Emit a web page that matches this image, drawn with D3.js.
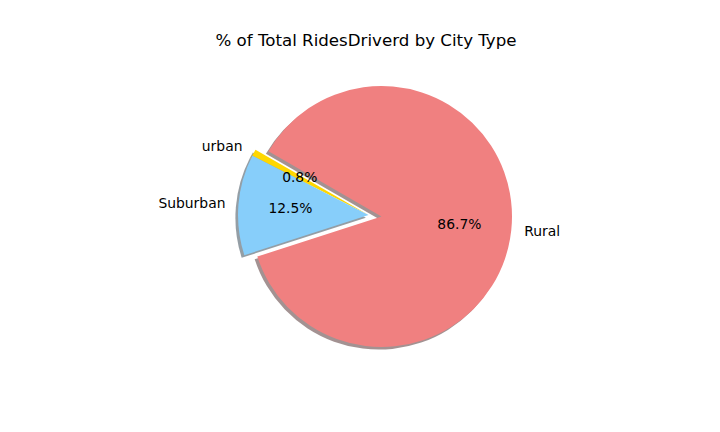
<!DOCTYPE html>
<html>
<head>
<meta charset="utf-8">
<script src="https://cdn.jsdelivr.net/npm/d3@7"></script>
<style>
  html, body { margin: 0; padding: 0; background: #ffffff; }
  svg { display: block; }
  text { font-family: "DejaVu Sans", sans-serif; fill: #000; }
</style>
</head>
<body>
<script>
// ---- data ----
const cityTypes = ["urban", "Suburban", "Rural"];
const ridePercent = [0.8, 12.5, 86.7];
const sliceColors = ["#FFD700", "#87CEFA", "#F08080"];
const explode = [0.1, 0.1, 0];
const chartTitle = "% of Total RidesDriverd by City Type";

// ---- layout ----
const W = 720, H = 432;
const cx = 381.5, cy = 216.5, R = 130.5;
const startDeg = 150;            // matplotlib-style start angle (ccw from 3 o'clock)
const labelDist = 1.1, pctDist = 0.6, shadowOff = 0.02;

const svg = d3.select("body").append("svg")
  .attr("width", W).attr("height", H);

// scales from data units (radius = 1) to pixels
const sx = d3.scaleLinear().domain([-1, 1]).range([cx - R, cx + R]);
const sy = d3.scaleLinear().domain([-1, 1]).range([cy + R, cy - R]);

const a0 = (90 - startDeg) * Math.PI / 180;
const pie = d3.pie().sort(null).value(d => d.v)
  .startAngle(a0).endAngle(a0 - 2 * Math.PI);

const data = cityTypes.map((c, i) => ({ c, v: ridePercent[i], col: sliceColors[i], ex: explode[i] }));
const arcs = pie(data);

// exploded slices move together along the middle of their combined span
const exArcs = arcs.filter(a => a.data.ex > 0);
const groupMid = exArcs.length
  ? (d3.max(exArcs, a => Math.max(a.startAngle, a.endAngle)) + d3.min(exArcs, a => Math.min(a.startAngle, a.endAngle))) / 2
  : 0;

arcs.forEach(a => {
  a.mid = (a.startAngle + a.endAngle) / 2;
  const e = a.data.ex;
  a.ox = e * Math.sin(groupMid);   // data units
  a.oy = e * Math.cos(groupMid);
});

const arcGen = d3.arc().innerRadius(0).outerRadius(R);

// shadows (behind every wedge)
const shadowG = svg.append("g");
arcs.forEach(a => {
  const c = d3.rgb(a.data.col);
  shadowG.append("path")
    .attr("d", arcGen({ startAngle: a.startAngle, endAngle: a.endAngle }))
    .attr("transform", `translate(${sx(a.ox - shadowOff)},${sy(a.oy - shadowOff)})`)
    .attr("fill", d3.rgb(c.r * 0.3, c.g * 0.3, c.b * 0.3))
    .attr("fill-opacity", 0.5);
});

// wedges
const wedgeG = svg.append("g");
arcs.forEach(a => {
  wedgeG.append("path")
    .attr("d", arcGen({ startAngle: a.startAngle, endAngle: a.endAngle }))
    .attr("transform", `translate(${sx(a.ox)},${sy(a.oy)})`)
    .attr("fill", a.data.col);
});

// labels
const textG = svg.append("g");
arcs.forEach(a => {
  const lx = a.ox + labelDist * Math.sin(a.mid);
  const ly = a.oy + labelDist * Math.cos(a.mid);
  textG.append("text")
    .attr("x", sx(lx)).attr("y", sy(ly)).attr("dy", "0.3em")
    .attr("text-anchor", lx > 0 ? "start" : "end")
    .attr("font-size", "13.89px")
    .text(a.data.c);

  const px = a.ox + pctDist * Math.sin(a.mid);
  const py = a.oy + pctDist * Math.cos(a.mid);
  textG.append("text")
    .attr("x", sx(px)).attr("y", sy(py)).attr("dy", "0.3em")
    .attr("text-anchor", "middle")
    .attr("font-size", "13.89px")
    .text(d3.format(".1f")(a.data.v) + "%");
});

// title
svg.append("text")
  .attr("x", 366).attr("y", 46)
  .attr("text-anchor", "middle")
  .attr("font-size", "16.67px")
  .text(chartTitle);
</script>
</body>
</html>
